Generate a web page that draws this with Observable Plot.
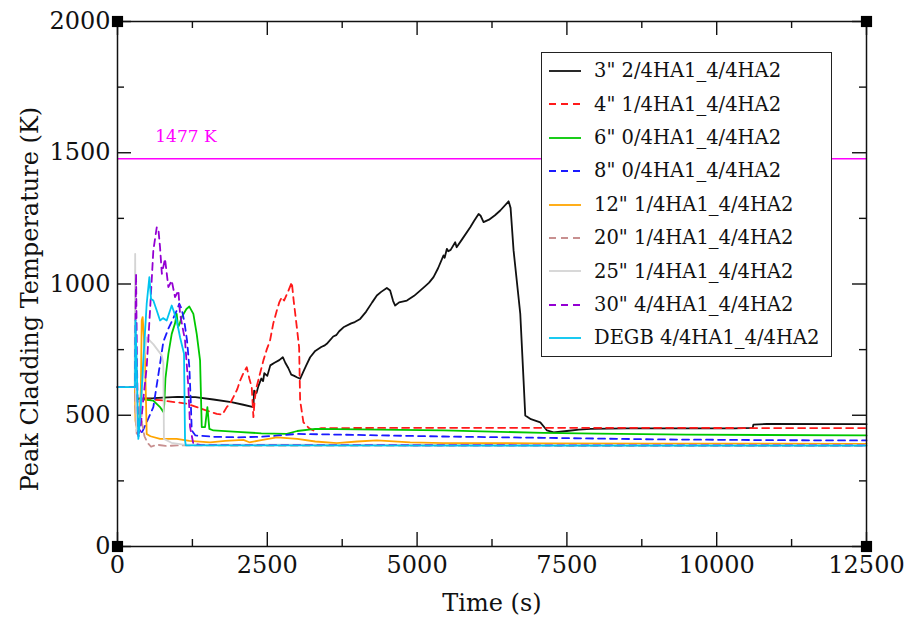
<!DOCTYPE html>
<html><head><meta charset="utf-8">
<script src="https://cdn.jsdelivr.net/npm/d3@7"></script>
<script src="https://cdn.jsdelivr.net/npm/@observablehq/plot@0.6"></script>
<style>
body{margin:0;background:#fff;}
#wrap{position:relative;width:909px;height:618px;overflow:hidden;}
#legend{position:absolute;left:541px;top:52px;width:291px;height:305px;border:1.5px solid #222;background:#fff;font-family:"DejaVu Serif";font-size:19.5px;color:#111;box-sizing:border-box;padding-top:1px;}
.row{display:flex;align-items:center;height:33.4px;position:relative;}
.row svg{position:absolute;left:6px;top:15px;}
.row span{position:absolute;left:52px;white-space:nowrap;}
</style>
</head><body>
<div id="wrap"></div>
<script>
// ---- data ----
const seriesNames = ['3" 2/4HA1_4/4HA2','4" 1/4HA1_4/4HA2','6" 0/4HA1_4/4HA2','8" 0/4HA1_4/4HA2','12" 1/4HA1_4/4HA2','20" 1/4HA1_4/4HA2','25" 1/4HA1_4/4HA2','30" 4/4HA1_4/4HA2','DEGB 4/4HA1_4/4HA2'];
const seriesColors = ["#111111","#ff1a1a","#00c800","#1a1aff","#ffa500","#c89090","#d4d4d4","#9400d3","#00c4f0"];
const seriesDashed = [false,true,false,true,false,true,false,true,false];

const s3 = [[0,607],[290,607],[300,575],[320,563],[600,565],[1000,570],[1300,569],[1600,560],[1900,550],[2100,540],[2268,531],[2280,594],[2320,585],[2350,610],[2400,640],[2430,630],[2450,660],[2500,650],[2550,690],[2620,700],[2700,710],[2759,721],[2800,700],[2850,680],[2900,655],[2950,650],[2993,645],[3048,639],[3100,665],[3150,690],[3215,721],[3300,745],[3400,760],[3450,765],[3493,772],[3600,800],[3650,805],[3700,820],[3771,835],[3900,850],[3960,855],[4050,867],[4150,895],[4250,930],[4328,956],[4400,970],[4495,985],[4550,975],[4600,935],[4634,918],[4700,930],[4830,937],[4950,955],[5051,975],[5150,995],[5200,1005],[5274,1026],[5350,1060],[5441,1109],[5460,1100],[5497,1134],[5520,1125],[5560,1130],[5636,1159],[5660,1140],[5750,1170],[5887,1216],[5950,1240],[6026,1267],[6060,1260],[6109,1236],[6200,1245],[6300,1262],[6388,1280],[6527,1315],[6560,1290],[6610,1128],[6722,886],[6777,632],[6805,499],[6900,485],[7056,473],[7168,442],[7278,435],[7500,440],[7700,445],[7900,448],[8500,450],[9500,450],[10300,450],[10600,452],[10612,464],[10842,467],[12500,466]];
const s4 = [[0,607],[290,607],[300,575],[320,563],[700,558],[1155,544],[1489,518],[1656,505],[1750,502],[1823,531],[1880,545],[1934,569],[2000,600],[2046,632],[2100,660],[2157,683],[2200,640],[2240,607],[2268,493],[2290,560],[2320,607],[2380,660],[2435,709],[2490,750],[2546,785],[2600,850],[2659,899],[2700,930],[2742,950],[2780,937],[2853,975],[2909,1007],[2940,937],[2993,835],[3031,759],[3048,556],[3103,473],[3200,450],[3270,442],[3400,451],[5000,452],[7000,452],[9000,452],[11000,451],[12500,451]];
const s6 = [[0,607],[290,607],[300,575],[320,563],[598,556],[710,531],[765,512],[780,540],[800,640],[849,734],[905,810],[960,850],[988,886],[1010,835],[1040,850],[1072,874],[1150,905],[1199,914],[1266,886],[1322,810],[1378,709],[1406,455],[1461,455],[1500,531],[1533,448],[1600,442],[2000,437],[2400,431],[2826,429],[3000,440],[3300,448],[4000,446],[5441,442],[7111,433],[8000,430],[9500,426],[12500,423]];
const s8 = [[0,607],[290,607],[300,560],[320,450],[350,420],[420,440],[500,480],[598,531],[710,696],[765,780],[849,830],[932,870],[1000,905],[1030,925],[1072,905],[1120,850],[1160,785],[1199,683],[1222,556],[1239,442],[1300,423],[1600,418],[2000,416],[2400,418],[2700,423],[3000,429],[4000,425],[5441,419],[7111,414],[9000,408],[11000,405],[12500,404]];
const s12 = [[0,607],[290,607],[300,480],[330,440],[360,455],[390,600],[404,861],[420,874],[440,800],[459,709],[475,560],[487,429],[550,420],[710,410],[988,410],[1200,402],[1545,397],[1800,402],[2101,406],[2200,397],[2400,405],[2659,416],[3000,410],[3300,400],[3660,394],[4000,400],[4328,404],[4885,397],[5441,394],[7000,393],[9000,392],[12500,391]];
const s20 = [[0,607],[290,607],[300,520],[320,430],[350,480],[380,560],[410,470],[450,420],[500,395],[560,380],[650,388],[800,383],[1000,385],[12500,383]];
const s25 = [[0,607],[285,607],[295,1115],[305,600],[320,440],[380,470],[440,720],[487,797],[600,770],[738,728],[765,700],[775,410],[900,395],[1100,388],[12500,386]];
const s30 = [[0,607],[290,607],[300,850],[310,1039],[325,700],[345,429],[380,440],[430,560],[487,683],[543,899],[598,1128],[655,1216],[682,1210],[710,1140],[740,1039],[793,1096],[849,988],[905,1013],[960,950],[1016,975],[1044,886],[1127,785],[1183,607],[1211,455],[1266,391],[1400,386],[3000,386],[12500,385]];
const sDEGB = [[0,607],[292,607],[300,861],[320,700],[348,410],[380,500],[431,709],[487,924],[532,1026],[560,943],[598,937],[655,899],[710,861],[760,870],[821,861],[905,918],[940,895],[988,861],[1044,797],[1110,734],[1127,404],[1140,385],[12500,384]];
const seriesData = [s3,s4,s6,s8,s12,s20,s25,s30,sDEGB];

const limitValue = [1477];
const limitLabel = ["1477 K"];
const xTicks = [0,2500,5000,7500,10000,12500];
const xMinor = [1250,3750,6250,8750,11250];
const yTicks = [0,500,1000,1500,2000];
const yMinor = [250,750,1250,1750];
const corners = [[0,0],[12500,0],[0,2000],[12500,2000]];

// ---- chart ----
const lineMarks = seriesData.map((s,i) => Plot.line(s, {
  x: d => d[0], y: d => d[1], stroke: seriesColors[i], strokeWidth: 1.8,
  strokeDasharray: seriesDashed[i] ? "7,5" : null, curve: "linear"
}));
const tickStyle = {stroke: "#111", strokeWidth: 1.4};
const chart = Plot.plot({
  width: 909, height: 618,
  marginLeft: 117, marginRight: 43, marginTop: 21, marginBottom: 72,
  x: {domain: [0,12500]},
  y: {domain: [0,2000]},
  style: {fontFamily: "DejaVu Serif", fontSize: "24px", color: "#111", background: "white", overflow: "visible"},
  marks: [
    Plot.ruleY(limitValue, {y: d => d, stroke: "#ff00ff", strokeWidth: 1.6}),
    Plot.text(limitLabel, {x: () => 630, y: () => limitValue[0], text: d => d, fill: "#ff00ff", fontSize: 17, textAnchor: "start", dy: -22}),
    ...lineMarks,
    Plot.frame({stroke: "#111", strokeWidth: 1.5}),
    Plot.ruleX(xTicks, {x: d => d, y1: 0, y2: 0, insetBottom: 14, ...tickStyle}),
    Plot.ruleX(xMinor, {x: d => d, y1: 0, y2: 0, insetBottom: 7, ...tickStyle}),
    Plot.ruleX(xTicks, {x: d => d, y1: 2000, y2: 2000, insetBottom: -14, ...tickStyle}),
    Plot.ruleX(xMinor, {x: d => d, y1: 2000, y2: 2000, insetBottom: -7, ...tickStyle}),
    Plot.ruleY(yTicks, {y: d => d, x1: 0, x2: 0, insetRight: -14, ...tickStyle}),
    Plot.ruleY(yMinor, {y: d => d, x1: 0, x2: 0, insetRight: -7, ...tickStyle}),
    Plot.ruleY(yTicks, {y: d => d, x1: 12500, x2: 12500, insetLeft: -14, ...tickStyle}),
    Plot.ruleY(yMinor, {y: d => d, x1: 12500, x2: 12500, insetLeft: -7, ...tickStyle}),
    Plot.axisX({ticks: xTicks, tickSize: 0, tickPadding: 9, tickFormat: d => String(d), label: null, fontSize: 24}),
    Plot.axisY({ticks: yTicks, tickSize: 0, tickPadding: 7, tickFormat: d => String(d), label: null, fontSize: 24}),
    Plot.text(["Time (s)"], {frameAnchor: "bottom", dy: 57, text: d => d, fontSize: 24, textAnchor: "middle", lineAnchor: "middle"}),
    Plot.text(["Peak Cladding Temperature (K)"], {frameAnchor: "left", dx: -87, dy: 15, rotate: -90, text: d => d, fontSize: 24, textAnchor: "middle", lineAnchor: "middle"}),
    Plot.dot(corners, {x: d => d[0], y: d => d[1], symbol: "square", r: 6.3, fill: "#000", stroke: "none"})
  ]
});
const wrap = document.getElementById("wrap");
wrap.appendChild(chart);

// ---- legend ----
const legend = document.createElement("div");
legend.id = "legend";
seriesNames.forEach((name, i) => {
  const row = document.createElement("div");
  row.className = "row";
  const dash = seriesDashed[i] ? 'stroke-dasharray="7,5"' : '';
  row.innerHTML = `<svg width="34" height="4"><line x1="1" y1="2" x2="33" y2="2" stroke="${seriesColors[i]}" stroke-width="1.8" ${dash}/></svg><span></span>`;
  row.querySelector("span").textContent = name;
  legend.appendChild(row);
});
wrap.appendChild(legend);
</script>
</body></html>
